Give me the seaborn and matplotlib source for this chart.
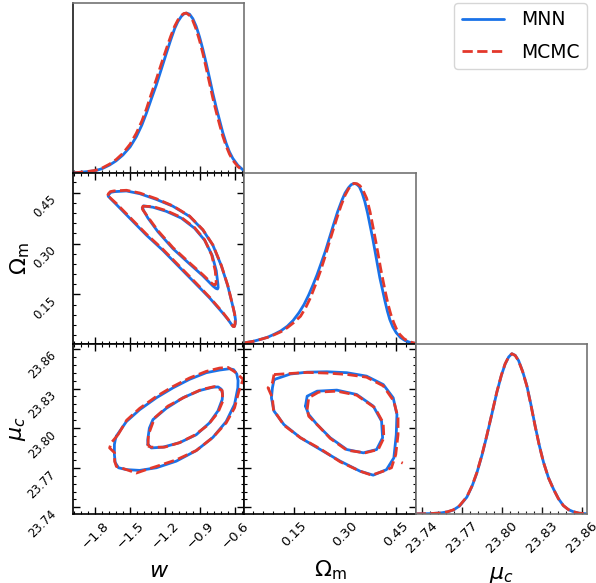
import matplotlib
matplotlib.use("Agg")
import matplotlib.pyplot as plt
from matplotlib.ticker import AutoMinorLocator
from matplotlib.lines import Line2D
import seaborn as sns

# ---------------- axes: labels, ranges, ticks ----------------
labels = [r"$w$", r"$\Omega_{\rm m}$", r"$\mu_c$"]
limits = [(-1.99, -0.52), (0.005, 0.507), (23.735, 23.864)]
ticks = [[-1.8, -1.5, -1.2, -0.9, -0.6],
         [0.15, 0.30, 0.45],
         [23.74, 23.77, 23.80, 23.83, 23.86]]
tick_text = [["\u22121.8", "\u22121.5", "\u22121.2", "\u22120.9", "\u22120.6"],
             ["0.15", "0.30", "0.45"],
             ["23.74", "23.77", "23.80", "23.83", "23.86"]]
series_names = ["MNN", "MCMC"]

# ---------------- 1D marginals (peak-normalised) ----------------
w_pdf_x = [-1.99, -1.92, -1.86, -1.80, -1.74, -1.675, -1.62, -1.562, -1.50, -1.447,
           -1.40, -1.361, -1.32, -1.276, -1.233, -1.19, -1.153, -1.118, -1.09, -1.061,
           -1.04, -1.018, -0.99, -0.962, -0.933, -0.904, -0.875, -0.847, -0.818, -0.79,
           -0.761, -0.733, -0.705, -0.676, -0.648, -0.619, -0.576, -0.533, -0.52]
w_pdf_mnn = [0.003, 0.007, 0.011, 0.016, 0.029, 0.052, 0.078, 0.114, 0.165, 0.228,
             0.300, 0.374, 0.460, 0.55, 0.648, 0.747, 0.830, 0.903, 0.947, 0.979,
             0.994, 1.0, 0.993, 0.965, 0.917, 0.85, 0.771, 0.685, 0.592, 0.498,
             0.410, 0.332, 0.254, 0.187, 0.134, 0.093, 0.050, 0.022, 0.017]
w_pdf_mcmc = [0.002, 0.007, 0.012, 0.018, 0.033, 0.058, 0.086, 0.125, 0.182, 0.25,
              0.325, 0.40, 0.492, 0.585, 0.682, 0.775, 0.853, 0.918, 0.957, 0.985,
              0.997, 1.0, 0.985, 0.952, 0.898, 0.827, 0.745, 0.655, 0.560, 0.468,
              0.382, 0.305, 0.232, 0.170, 0.120, 0.082, 0.042, 0.018, 0.013]

om_pdf_x_mnn = [0.005, 0.03, 0.053, 0.073, 0.092, 0.112, 0.131, 0.148, 0.165, 0.18,
                0.194, 0.206, 0.218, 0.230, 0.242, 0.254, 0.266, 0.278, 0.291, 0.300,
                0.310, 0.318, 0.326, 0.334, 0.342, 0.350, 0.358, 0.366, 0.373, 0.381,
                0.388, 0.395, 0.402, 0.41, 0.417, 0.424, 0.431, 0.44, 0.450, 0.462,
                0.475, 0.49, 0.505]
om_pdf_mnn = [0.005, 0.014, 0.027, 0.040, 0.058, 0.080, 0.109, 0.145, 0.193, 0.245,
              0.306, 0.366, 0.430, 0.502, 0.575, 0.658, 0.741, 0.822, 0.896, 0.940,
              0.973, 0.992, 1.0, 0.995, 0.979, 0.940, 0.886, 0.815, 0.741, 0.657,
              0.575, 0.492, 0.41, 0.333, 0.265, 0.203, 0.151, 0.104, 0.068, 0.039,
              0.02, 0.008, 0.002]
om_pdf_x_mcmc = [0.005, 0.03, 0.053, 0.073, 0.092, 0.112, 0.131, 0.150, 0.1695, 0.184,
                 0.1985, 0.213, 0.2276, 0.240, 0.2517, 0.264, 0.276, 0.288, 0.3003, 0.310,
                 0.318, 0.326, 0.335, 0.3439, 0.353, 0.3633, 0.373, 0.3826, 0.390, 0.3972,
                 0.404, 0.4117, 0.419, 0.4262, 0.434, 0.4428, 0.451, 0.4602, 0.472, 0.4843,
                 0.495, 0.505]
om_pdf_mcmc = [0.005, 0.014, 0.027, 0.039, 0.055, 0.074, 0.100, 0.132, 0.171, 0.222,
               0.286, 0.365, 0.451, 0.533, 0.617, 0.702, 0.783, 0.860, 0.927, 0.965,
               0.988, 1.0, 0.998, 0.985, 0.955, 0.907, 0.825, 0.72, 0.638, 0.555,
               0.472, 0.389, 0.313, 0.244, 0.183, 0.13, 0.090, 0.058, 0.032, 0.016,
               0.008, 0.003]

mu_pdf_x = [23.735, 23.745, 23.7534, 23.759, 23.7634, 23.768, 23.7735, 23.7775, 23.781, 23.785,
            23.7886, 23.7925, 23.7961, 23.7995, 23.8023, 23.805, 23.8074, 23.8099, 23.8124, 23.8155,
            23.8187, 23.8218, 23.8249, 23.828, 23.8312, 23.835, 23.8387, 23.8425, 23.8462, 23.85,
            23.8537, 23.858, 23.864]
mu_pdf_mnn = [0.0005, 0.002, 0.006, 0.013, 0.025, 0.050, 0.105, 0.175, 0.255, 0.37,
              0.49, 0.63, 0.76, 0.865, 0.935, 0.98, 1.0, 0.99, 0.958, 0.89,
              0.80, 0.68, 0.55, 0.43, 0.323, 0.225, 0.156, 0.095, 0.052, 0.027,
              0.014, 0.005, 0.001]
mu_pdf_mcmc = [0.0005, 0.002, 0.006, 0.014, 0.026, 0.052, 0.107, 0.177, 0.258, 0.373,
               0.493, 0.632, 0.762, 0.867, 0.937, 0.981, 1.0, 0.989, 0.956, 0.888,
               0.797, 0.677, 0.548, 0.428, 0.322, 0.224, 0.155, 0.094, 0.052, 0.027,
               0.014, 0.005, 0.001]

# ---------------- 2D credible contours (68% inner, 95% outer) ----------------
# w - Omega_m
w_om_95_w_mnn = [-1.688, -1.681, -1.665, -1.633, -1.532, -1.418, -1.275, -1.133, -0.99, -0.876,
                 -0.79, -0.718, -0.662, -0.619, -0.603, -0.596, -0.598, -0.604, -0.616, -0.627,
                 -0.66, -0.705, -0.819, -0.933, -1.076, -1.219, -1.361, -1.504, -1.618, -1.67]
w_om_95_om_mnn = [0.440, 0.445, 0.451, 0.453, 0.455, 0.447, 0.43, 0.41, 0.38, 0.34,
                  0.295, 0.235, 0.175, 0.115, 0.092, 0.075, 0.064, 0.057, 0.056, 0.06,
                  0.076, 0.095, 0.14, 0.18, 0.23, 0.28, 0.325, 0.375, 0.415, 0.433]
w_om_68_w_mnn = [-1.393, -1.385, -1.304, -1.19, -1.061, -0.947, -0.861, -0.796, -0.761, -0.747,
                 -0.745, -0.75, -0.765, -0.79, -0.876, -0.99, -1.133, -1.262, -1.347, -1.384]
w_om_68_om_mnn = [0.405, 0.411, 0.407, 0.395, 0.375, 0.345, 0.31, 0.265, 0.22, 0.18,
                  0.17, 0.166, 0.168, 0.175, 0.205, 0.24, 0.285, 0.335, 0.375, 0.397]
w_om_95_w_mcmc = [-1.693, -1.686, -1.67, -1.64, -1.532, -1.418, -1.275, -1.133, -0.99, -0.876,
                  -0.79, -0.718, -0.662, -0.619, -0.604, -0.598, -0.600, -0.606, -0.618, -0.63,
                  -0.662, -0.705, -0.819, -0.933, -1.076, -1.219, -1.361, -1.504, -1.618, -1.675]
w_om_95_om_mcmc = [0.441, 0.447, 0.453, 0.455, 0.457, 0.449, 0.432, 0.411, 0.381, 0.341,
                   0.296, 0.236, 0.176, 0.116, 0.093, 0.075, 0.063, 0.055, 0.056, 0.062,
                   0.078, 0.097, 0.142, 0.183, 0.233, 0.283, 0.328, 0.378, 0.418, 0.436]
w_om_68_w_mcmc = [-1.398, -1.39, -1.304, -1.19, -1.061, -0.947, -0.861, -0.80, -0.77, -0.762,
                  -0.763, -0.772, -0.785, -0.80, -0.876, -0.99, -1.133, -1.262, -1.347, -1.388]
w_om_68_om_mcmc = [0.403, 0.410, 0.409, 0.397, 0.377, 0.347, 0.311, 0.266, 0.22, 0.19,
                   0.182, 0.178, 0.179, 0.183, 0.208, 0.243, 0.288, 0.338, 0.378, 0.398]

# w - mu_c
w_mu_95_w_mnn = [-1.618, -1.532, -1.418, -1.275, -1.133, -0.99, -0.847, -0.733, -0.647, -0.612,
                 -0.585, -0.574, -0.576, -0.604, -0.676, -0.79, -0.933, -1.104, -1.275, -1.418,
                 -1.532, -1.600, -1.628, -1.635, -1.635, -1.628]
w_mu_95_mu_mnn = [23.794, 23.805, 23.814, 23.823, 23.8305, 23.837, 23.842, 23.844, 23.845, 23.8443,
                  23.841, 23.836, 23.8305, 23.818, 23.805, 23.793, 23.783, 23.775, 23.770, 23.768,
                  23.7686, 23.770, 23.774, 23.780, 23.7876, 23.791]
w_mu_68_w_mnn = [-1.347, -1.349, -1.335, -1.304, -1.19, -1.047, -0.904, -0.79, -0.745, -0.718,
                 -0.707, -0.71, -0.747, -0.819, -0.933, -1.076, -1.219, -1.318]
w_mu_68_mu_mnn = [23.7876, 23.791, 23.800, 23.8065, 23.815, 23.823, 23.8285, 23.831, 23.8312, 23.8295,
                  23.826, 23.8217, 23.813, 23.804, 23.795, 23.789, 23.7856, 23.785]
w_mu_95_w_mcmc = [-1.604, -1.53, -1.418, -1.275, -1.133, -0.99, -0.847, -0.733, -0.66, -0.60,
                  -0.53, -0.567, -0.604, -0.676, -0.79, -0.933, -1.104, -1.275, -1.361, -1.447,
                  -1.532, -1.618, -1.633, -1.633, -1.676, -1.661]
w_mu_95_mu_mcmc = [23.795, 23.806, 23.815, 23.824, 23.8315, 23.838, 23.843, 23.8455, 23.846, 23.8425,
                   23.837, 23.828, 23.8154, 23.804, 23.793, 23.783, 23.776, 23.771, 23.7686, 23.766,
                   23.7686, 23.771, 23.775, 23.7813, 23.785, 23.789]
w_mu_68_w_mcmc = [-1.347, -1.343, -1.29, -1.176, -1.033, -0.89, -0.776, -0.71, -0.705, -0.747,
                  -0.833, -0.947, -1.076, -1.204, -1.318]
w_mu_68_mu_mcmc = [23.7864, 23.795, 23.8078, 23.8167, 23.8235, 23.8292, 23.8315, 23.8285, 23.8205, 23.8117,
                   23.8023, 23.7947, 23.789, 23.7856, 23.7856]

# Omega_m - mu_c
om_mu_95_om_mnn = [0.0919, 0.140, 0.189, 0.247, 0.305, 0.363, 0.412, 0.441, 0.452, 0.45, 0.443,
                   0.4215, 0.3826, 0.344, 0.2858, 0.2276, 0.1695, 0.1209, 0.0919, 0.0843, 0.0872]
om_mu_95_mu_mnn = [23.8368, 23.841, 23.8424, 23.8427, 23.842, 23.8394, 23.833, 23.823, 23.8103, 23.795, 23.7775,
                   23.7686, 23.7644, 23.7674, 23.775, 23.7838, 23.7927, 23.8027, 23.8129, 23.823, 23.8305]
om_mu_68_om_mnn = [0.184, 0.189, 0.218, 0.276, 0.334, 0.3826, 0.407, 0.41, 0.3924, 0.3535, 0.3052,
                   0.2567, 0.218, 0.1936]
om_mu_68_mu_mnn = [23.8167, 23.8242, 23.828, 23.8288, 23.8255, 23.8167, 23.8053, 23.7927, 23.7838, 23.7813, 23.7838,
                   23.7927, 23.8027, 23.8103]
om_mu_95_om_mcmc = [0.0919, 0.140, 0.189, 0.247, 0.305, 0.363, 0.412, 0.4427, 0.4552, 0.4552, 0.4485,
                    0.436, 0.412, 0.378, 0.344, 0.2858, 0.2276, 0.1695, 0.1209, 0.0901, 0.0872, 0.0744, 0.0872]
om_mu_95_mu_mcmc = [23.8406, 23.8414, 23.8422, 23.8417, 23.8407, 23.8386, 23.832, 23.8205, 23.8078, 23.795, 23.780,
                    23.770, 23.7674, 23.7644, 23.7674, 23.7745, 23.7843, 23.7927, 23.8022, 23.8141, 23.823, 23.8305, 23.8343]
om_mu_68_om_mcmc = [0.189, 0.1936, 0.2227, 0.276, 0.334, 0.3875, 0.4117, 0.4137, 0.3972, 0.3584, 0.3052,
                    0.2567, 0.2198, 0.1936]
om_mu_68_mu_mcmc = [23.8141, 23.823, 23.8273, 23.828, 23.825, 23.8154, 23.804, 23.7927, 23.7838, 23.7813, 23.7833,
                    23.7922, 23.8023, 23.809]
om_mu_islet_om_mcmc = [0.465, 0.469]
om_mu_islet_mu_mcmc = [23.7740, 23.7735]

# ---------------- styling ----------------
sns.set_style("white")
plt.rcParams["font.family"] = ["DejaVu Sans"]
plt.rcParams["mathtext.fontset"] = "dejavusans"
plt.rcParams.update({"text.color": "black", "axes.labelcolor": "black",
                     "xtick.color": "black", "ytick.color": "black"})

blue = "#1a72e8"
red = "#e3382b"
styles = {"MNN": dict(color=blue, linestyle="-"),
          "MCMC": dict(color=red, linestyle="--")}
LW = 2.0


def curve(ax, xs, ys, name, closed=False):
    xs = list(xs)
    ys = list(ys)
    if closed:
        xs = xs + xs[:1]
        ys = ys + ys[:1]
    sns.lineplot(x=xs, y=ys, sort=False, estimator=None, ax=ax, lw=LW,
                 legend=False, **styles[name])


fig, axes = plt.subplots(3, 3, figsize=(5.96, 5.83), dpi=100,
                         gridspec_kw=dict(left=0.1225, right=0.985, bottom=0.1184,
                                          top=0.9949, wspace=0, hspace=0))

marginals = [
    [(w_pdf_x, w_pdf_mnn), (w_pdf_x, w_pdf_mcmc)],
    [(om_pdf_x_mnn, om_pdf_mnn), (om_pdf_x_mcmc, om_pdf_mcmc)],
    [(mu_pdf_x, mu_pdf_mnn), (mu_pdf_x, mu_pdf_mcmc)],
]

contours = {
    (1, 0): {"MNN": [(w_om_95_w_mnn, w_om_95_om_mnn), (w_om_68_w_mnn, w_om_68_om_mnn)],
             "MCMC": [(w_om_95_w_mcmc, w_om_95_om_mcmc), (w_om_68_w_mcmc, w_om_68_om_mcmc)]},
    (2, 0): {"MNN": [(w_mu_95_w_mnn, w_mu_95_mu_mnn), (w_mu_68_w_mnn, w_mu_68_mu_mnn)],
             "MCMC": [(w_mu_95_w_mcmc, w_mu_95_mu_mcmc), (w_mu_68_w_mcmc, w_mu_68_mu_mcmc)]},
    (2, 1): {"MNN": [(om_mu_95_om_mnn, om_mu_95_mu_mnn), (om_mu_68_om_mnn, om_mu_68_mu_mnn)],
             "MCMC": [(om_mu_95_om_mcmc, om_mu_95_mu_mcmc), (om_mu_68_om_mcmc, om_mu_68_mu_mcmc)]},
}

ylabel_x = {1: -0.24, 2: -0.26}

n = 3
for i in range(n):
    for j in range(n):
        ax = axes[i, j]
        if j > i:
            ax.set_visible(False)
            continue
        ax.set_xlim(*limits[j])
        ax.set_xticks(ticks[j])
        ax.xaxis.set_minor_locator(AutoMinorLocator(5))
        if i == j:
            # marginal panel
            for (xs, ys), name in zip(marginals[i], series_names):
                curve(ax, xs, ys, name)
            ax.set_ylim(0, 1.063)
            ax.set_yticks([])
            ax.tick_params(axis="x", which="both", direction="in", bottom=True, top=False)
            ax.tick_params(axis="x", which="major", length=5, width=1, color="0.1")
            ax.tick_params(axis="x", which="minor", length=2.5, width=0.8, color="0.1")
            for side, sp in ax.spines.items():
                sp.set_color("0.45")
                sp.set_linewidth(1.2)
            if i == 0:
                ax.spines["left"].set_color("0.1")
        else:
            for name in series_names:
                for xs, ys in contours[(i, j)][name]:
                    curve(ax, xs, ys, name, closed=True)
            if (i, j) == (2, 1):
                curve(ax, om_mu_islet_om_mcmc, om_mu_islet_mu_mcmc, "MCMC")
            ax.set_ylim(*limits[i])
            ax.set_yticks(ticks[i])
            ax.yaxis.set_minor_locator(AutoMinorLocator(5))
            ax.tick_params(which="both", direction="in", top=True, right=True,
                           bottom=True, left=True)
            ax.tick_params(which="major", length=5, width=1)
            ax.tick_params(which="minor", length=2.5, width=0.8)
            for sp in ax.spines.values():
                sp.set_color("black")
                sp.set_linewidth(1.2)
        ax.set_xlabel("")
        ax.set_ylabel("")
        # tick labels only on the outer edges
        if i == n - 1:
            ax.set_xticklabels(tick_text[j], rotation=45, fontsize=9.5)
            ax.set_xlabel(labels[j], fontsize=16, labelpad=7)
        else:
            ax.tick_params(axis="x", labelbottom=False)
        if j == 0 and i > 0:
            ax.set_yticklabels(tick_text[i], rotation=45, ha="right", va="top", fontsize=8.4)
            ax.tick_params(axis="y", pad=10.5)
            ax.set_ylabel(labels[i], fontsize=16)
            ax.yaxis.set_label_coords(ylabel_x[i], 0.5)
        elif i != j:
            ax.tick_params(axis="y", labelleft=False)

handles = [Line2D([], [], lw=LW, **styles[name]) for name in series_names]
fig.legend(handles, series_names, loc="upper right", bbox_to_anchor=(0.985, 0.995),
           fontsize=13.5, borderaxespad=0.0, frameon=True, handlelength=2.25,
           handletextpad=0.9, labelspacing=0.7)

fig.savefig("out.png", dpi=100)
